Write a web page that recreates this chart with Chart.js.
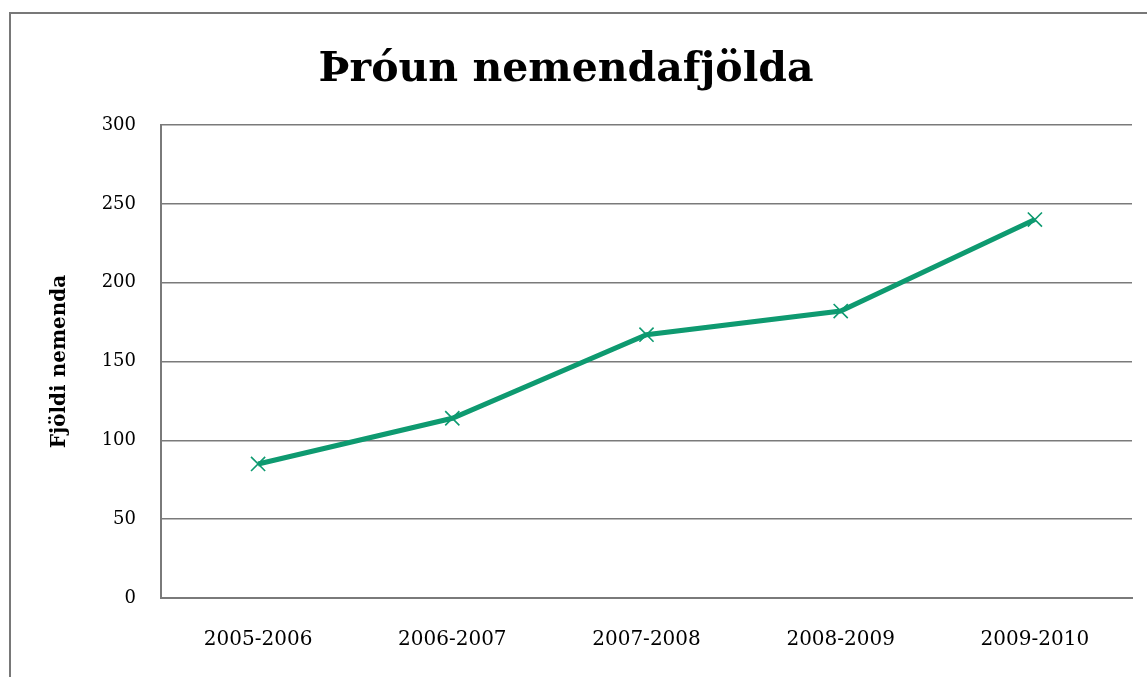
<!DOCTYPE html>
<html>
<head>
<meta charset="utf-8">
<title>Þróun nemendafjölda</title>
<script src="https://cdn.jsdelivr.net/npm/chart.js@4"></script>
<style>
    html, body { margin: 0; padding: 0; background: #fff; overflow: hidden; }
    #frame {
        position: absolute; left: 9px; top: 12px; width: 1200px; height: 700px;
        border-left: 2px solid #787878; border-top: 2px solid #787878;
    }
    #wrap { position: absolute; left: 0; top: 0; width: 1147px; height: 677px; }
</style>
</head>
<body>
<div id="frame"></div>
<div id="wrap"><canvas id="chart"></canvas></div>
<script>
// Chart data
const schoolYears = ['2005-2006', '2006-2007', '2007-2008', '2008-2009', '2009-2010'];
const studentCounts = [85, 114, 167, 182, 240];
const yTicks = [0, 50, 100, 150, 200, 250, 300];

const serif = "'DejaVu Serif', 'Liberation Serif', serif";
const lineColor = '#0E9A70';
const gridColor = '#7a7a7a';

const ctx = document.getElementById('chart').getContext('2d');
new Chart(ctx, {
    type: 'line',
    data: {
        labels: schoolYears,
        datasets: [{
            label: 'Fjöldi nemenda',
            data: studentCounts,
            borderColor: lineColor,
            backgroundColor: lineColor,
            borderWidth: 5,
            tension: 0,
            pointStyle: 'crossRot',
            pointRadius: 10,
            pointBorderWidth: 1.6,
            pointBorderColor: lineColor
        }]
    },
    options: {
        responsive: true,
        maintainAspectRatio: false,
        animation: false,
        layout: { padding: { left: 0, top: 0, right: 15, bottom: 0 } },
        plugins: {
            legend: { display: false },
            tooltip: { enabled: false },
            title: {
                display: true,
                text: 'Þróun nemendafjölda',
                color: '#000',
                font: { family: serif, size: 41, weight: 'bold', lineHeight: 1.2 },
                padding: { top: 46, bottom: 29.8 }
            }
        },
        scales: {
            x: {
                offset: true,
                grid: { display: false, drawTicks: false, offset: true },
                border: { display: true, color: gridColor, width: 2 },
                ticks: {
                    color: '#000',
                    padding: 30,
                    maxRotation: 0,
                    font: { family: serif, size: 20 }
                },
                afterFit: function(scale) { scale.height = 79; }
            },
            y: {
                min: 0,
                max: 300,
                afterBuildTicks: function(scale) {
                    scale.ticks = yTicks.map(v => ({ value: v }));
                },
                grid: { color: gridColor, lineWidth: 1.5, drawTicks: false },
                border: { display: true, color: gridColor, width: 2 },
                ticks: {
                    color: '#000',
                    padding: 25,
                    font: { family: serif, size: 18 }
                },
                title: {
                    display: true,
                    text: 'Fjöldi nemenda',
                    color: '#000',
                    font: { family: serif, size: 20, weight: 'bold', lineHeight: 1.2 },
                    padding: { top: 48, bottom: 0 }
                },
                afterFit: function(scale) { scale.width = 161; }
            }
        }
    }
});
</script>
</body>
</html>
